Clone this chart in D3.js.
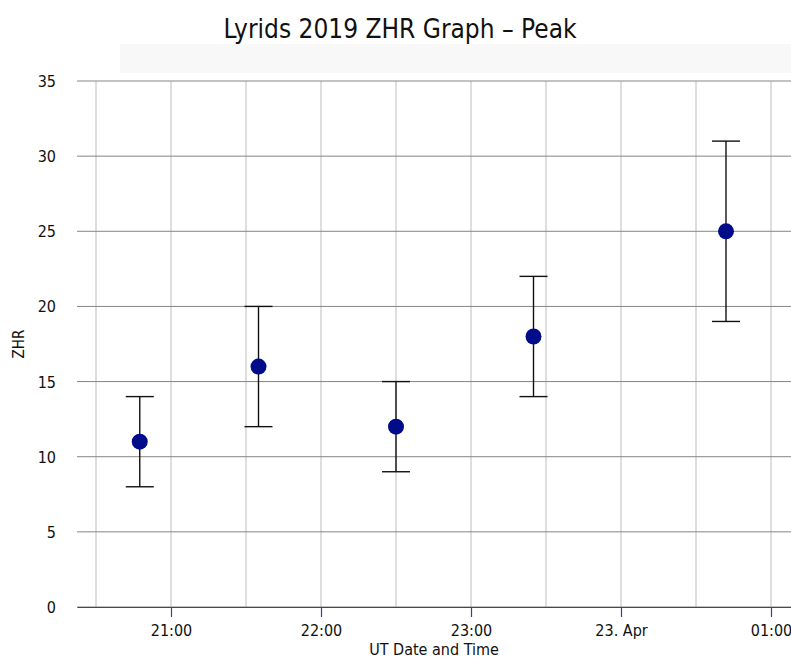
<!DOCTYPE html>
<html>
<head>
<meta charset="utf-8">
<script src="https://cdn.jsdelivr.net/npm/d3@7"></script>
<style>
  body { margin: 0; background: #fff; }
  text { font-family: "DejaVu Sans Condensed", "DejaVu Sans", sans-serif; }
</style>
</head>
<body>
<div id="chart"></div>
<script>
// Observation times (UT), ZHR and error range
var times = ["2019-04-22T20:47:30Z", "2019-04-22T21:35:00Z", "2019-04-22T22:30:00Z", "2019-04-22T23:25:00Z", "2019-04-23T00:42:00Z"];
var zhr = [11, 16, 12, 18, 25];
var zhrLow = [8, 12, 9, 14, 19];
var zhrHigh = [14, 20, 15, 22, 31];
var yTicks = [0, 5, 10, 15, 20, 25, 30, 35];
var xTickLabels = ["21:00", "22:00", "23:00", "23. Apr", "01:00"];

var w = 791, h = 658;
var plotL = 77, plotR = 791, plotT = 81, plotB = 607;

var svg = d3.select("#chart").append("svg").attr("width", w).attr("height", h);

// faint band under the title
svg.append("rect").attr("x", 120).attr("y", 44).attr("width", 671).attr("height", 29).attr("fill", "#f8f8f8");

var x = d3.scaleUtc()
	.domain([new Date("2019-04-22T20:22:24Z"), new Date("2019-04-23T01:08:00Z")])
	.range([plotL, plotR]);
var y = d3.scaleLinear().domain([0, 35]).range([plotB, plotT]);

// vertical grid every 30 minutes
var halfHours = d3.utcMinute.every(30).range(x.domain()[0], x.domain()[1]);
svg.selectAll("line.vgrid")
	.data(halfHours)
	.enter()
	.append("line")
	.attr("class", "vgrid")
	.attr("x1", function(d) { return x(d); })
	.attr("x2", function(d) { return x(d); })
	.attr("y1", plotT)
	.attr("y2", plotB)
	.attr("stroke", "#bdbdbd")
	.attr("stroke-width", 1);

// horizontal grid
svg.selectAll("line.hgrid")
	.data(yTicks)
	.enter()
	.append("line")
	.attr("class", "hgrid")
	.attr("x1", plotL)
	.attr("x2", plotR)
	.attr("y1", function(d) { return y(d); })
	.attr("y2", function(d) { return y(d); })
	.attr("stroke", "#858585")
	.attr("stroke-width", 1);

// y labels
svg.selectAll("text.ylab")
	.data(yTicks)
	.enter()
	.append("text")
	.attr("class", "ylab")
	.attr("x", 56)
	.attr("y", function(d) { return y(d) + 6; })
	.attr("text-anchor", "end")
	.attr("font-size", 16)
	.attr("fill", "#111")
	.text(function(d) { return d; });

// x axis
var hours = d3.utcHour.every(1).range(x.domain()[0], x.domain()[1]);
var xAxis = d3.axisBottom(x)
	.tickValues(hours)
	.tickSize(10)
	.tickSizeOuter(0)
	.tickFormat(function(d, i) { return xTickLabels[i]; });
var gx = svg.append("g").attr("transform", "translate(0," + plotB + ")").call(xAxis);
gx.attr("font-size", 16).attr("font-family", null);
gx.select(".domain").attr("stroke", "#2b4a86").attr("stroke-width", 1.2);
gx.selectAll(".tick line").attr("stroke", "#2b4a86").attr("stroke-width", 1.2);
gx.selectAll(".tick text")
	.attr("fill", "#111")
	.attr("y", 18);

// axis titles
svg.append("text")
	.attr("x", (plotL + plotR) / 2)
	.attr("y", 655)
	.attr("text-anchor", "middle")
	.attr("font-size", 16)
	.attr("fill", "#111")
	.text("UT Date and Time");

svg.append("text")
	.attr("transform", "translate(24," + ((plotT + plotB) / 2) + ") rotate(-90)")
	.attr("text-anchor", "middle")
	.attr("font-size", 15)
	.attr("fill", "#111")
	.text("ZHR");

svg.append("text")
	.attr("x", 400)
	.attr("y", 38)
	.attr("text-anchor", "middle")
	.attr("font-size", 26)
	.attr("fill", "#111")
	.text("Lyrids 2019 ZHR Graph \u2013 Peak");

// error bars
var data = times.map(function(t, i) {
	return { t: new Date(t), v: zhr[i], lo: zhrLow[i], hi: zhrHigh[i] };
});
var bars = svg.selectAll("g.err").data(data).enter().append("g").attr("class", "err")
	.attr("stroke", "#111").attr("stroke-width", 1.4);
bars.append("line")
	.attr("x1", function(d) { return x(d.t); })
	.attr("x2", function(d) { return x(d.t); })
	.attr("y1", function(d) { return y(d.lo); })
	.attr("y2", function(d) { return y(d.hi); });
bars.append("line")
	.attr("x1", function(d) { return x(d.t) - 14; })
	.attr("x2", function(d) { return x(d.t) + 14; })
	.attr("y1", function(d) { return y(d.hi); })
	.attr("y2", function(d) { return y(d.hi); });
bars.append("line")
	.attr("x1", function(d) { return x(d.t) - 14; })
	.attr("x2", function(d) { return x(d.t) + 14; })
	.attr("y1", function(d) { return y(d.lo); })
	.attr("y2", function(d) { return y(d.lo); });

// points
svg.selectAll("circle")
	.data(data)
	.enter()
	.append("circle")
	.attr("cx", function(d) { return x(d.t); })
	.attr("cy", function(d) { return y(d.v); })
	.attr("r", 8)
	.attr("fill", "#000c8a");
</script>
</body>
</html>
